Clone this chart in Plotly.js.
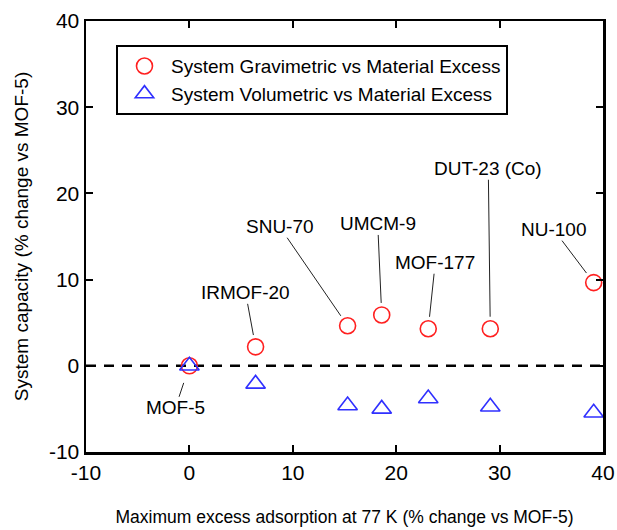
<!DOCTYPE html>
<html>
<head>
<meta charset="utf-8">
<script src="https://cdn.plot.ly/plotly-3.0.1.min.js"></script>
<style>html,body{margin:0;padding:0;background:#fff;}#chart{width:617px;height:530px;}</style>
</head>
<body>
<div id="chart"></div>
<script>
// Data
const names = ['MOF-5', 'IRMOF-20', 'SNU-70', 'UMCM-9', 'MOF-177', 'DUT-23 (Co)', 'NU-100'];
const excess = [0, 6.4, 15.3, 18.6, 23.1, 29.1, 39.1];
const gravimetric = [0, 2.2, 4.65, 5.9, 4.3, 4.3, 9.65];
const volumetric = [0, -2.1, -4.6, -5.0, -3.8, -4.75, -5.45];
const xTicks = [-10, 0, 10, 20, 30, 40];
const yTicks = [-10, 0, 10, 20, 30, 40];

// label offsets (pixels) from each gravimetric point
const labelDx = [-14, -10, -68, -4, 7, -2, -40];
const labelDy = [42, -54, -99, -91, -66, -160, -53];
const labelStandoff = [18, 12, 12, 12, 12, 12, 12];

const font = 'Arial, "Liberation Sans", sans-serif';

const traces = [
  {
    x: excess, y: gravimetric, type: 'scatter', mode: 'markers',
    name: 'System Gravimetric vs Material Excess',
    marker: {symbol: 'circle-open', size: 16, color: '#ff2020', line: {width: 1.6, color: '#ff2020'}}
  },
  {
    x: excess, y: volumetric, type: 'scatter', mode: 'markers',
    name: 'System Volumetric vs Material Excess',
    marker: {symbol: 'triangle-up-open', size: 17, color: '#3030ff', line: {width: 1.6, color: '#3030ff'}}
  }
];

const annotations = names.map((n, i) => ({
  x: excess[i], y: gravimetric[i], xref: 'x', yref: 'y',
  text: n, showarrow: true, arrowhead: 0, arrowwidth: 1, arrowcolor: '#222',
  ax: labelDx[i], ay: labelDy[i], standoff: labelStandoff[i], borderpad: 0,
  font: {family: font, size: 19, color: '#000'}
}));

const layout = {
  width: 617, height: 530,
  margin: {l: 86, r: 14, t: 21, b: 78},
  paper_bgcolor: '#fff', plot_bgcolor: '#fff',
  showlegend: true,
  legend: {
    x: 0.058, y: 0.944, xanchor: 'left', yanchor: 'top',
    bordercolor: '#000', borderwidth: 2, bgcolor: '#fff',
    font: {family: font, size: 19, color: '#000'},
    itemwidth: 43, tracegroupgap: 0
  },
  xaxis: {
    range: [-10, 40], tickvals: xTicks, ticktext: xTicks.map(String),
    ticks: 'inside', ticklen: 7, tickwidth: 2, tickcolor: '#000',
    showline: true, linewidth: 2.5, linecolor: '#000', mirror: 'ticks',
    showgrid: false, zeroline: false,
    tickfont: {family: font, size: 21, color: '#000'},
    title: {text: 'Maximum excess adsorption at 77 K (% change vs MOF-5)', font: {family: font, size: 17.5, color: '#000'}, standoff: 28}
  },
  yaxis: {
    range: [-10, 40], tickvals: yTicks, ticktext: yTicks.map(String),
    ticks: 'inside', ticklen: 7, tickwidth: 2, tickcolor: '#000',
    showline: true, linewidth: 2.5, linecolor: '#000', mirror: 'ticks',
    showgrid: false, zeroline: false,
    tickfont: {family: font, size: 21, color: '#000'},
    title: {text: 'System capacity (% change vs MOF-5)', font: {family: font, size: 19, color: '#000'}, standoff: 16}
  },
  shapes: [{
    type: 'line', xref: 'paper', yref: 'y', x0: 0, x1: 1, y0: 0, y1: 0,
    line: {color: '#000', width: 2.5, dash: '10px,8px'}, layer: 'below'
  }],
  annotations: annotations
};

Plotly.newPlot('chart', traces, layout, {displayModeBar: false, staticPlot: true});
</script>
</body>
</html>
